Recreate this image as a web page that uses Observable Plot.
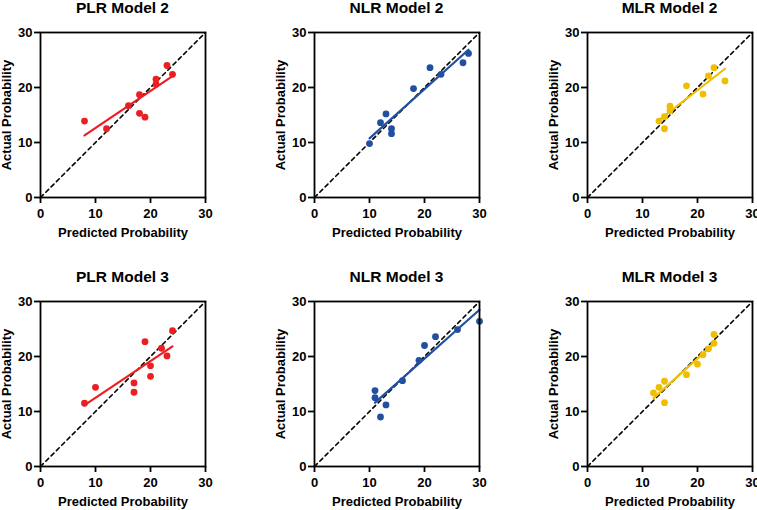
<!DOCTYPE html>
<html>
<head>
<meta charset="utf-8">
<script src="https://cdn.jsdelivr.net/npm/d3@7"></script>
<script src="https://cdn.jsdelivr.net/npm/@observablehq/plot@0.6"></script>
<style>
  html, body { margin: 0; padding: 0; background: #fff; }
  #chart { position: relative; width: 757px; height: 510px; overflow: hidden; background: #fff; }
  .panel-title { position: absolute; font-family: "Liberation Sans", Arial, sans-serif; font-weight: bold; font-size: 15.5px; line-height: 15px; text-align: center; color: #000; white-space: nowrap; }
  .panel { position: absolute; }
  .panel svg { overflow: visible; }
</style>
</head>
<body>
<div id="chart"></div>
<script>
// ---- Data ----
const axisTicks = [0, 10, 20, 30];
const xLabel = "Predicted Probability";
const yLabel = "Actual Probability";

const titles = ["PLR Model 2", "NLR Model 2", "MLR Model 2", "PLR Model 3", "NLR Model 3", "MLR Model 3"];
const colors = ["#EB1E23", "#2150A0", "#F0BE00", "#EB1E23", "#2150A0", "#F0BE00"];

const plr2X = [8, 12, 16, 18, 18, 19, 21, 21, 23, 24];
const plr2Y = [13.9, 12.5, 16.7, 18.7, 15.3, 14.6, 21.5, 20.6, 24.0, 22.4];

const nlr2X = [10, 12, 13, 14, 14, 18, 21, 23, 27, 28];
const nlr2Y = [9.8, 13.6, 15.2, 12.5, 11.6, 19.8, 23.6, 22.4, 24.5, 26.2];

const mlr2X = [13, 14, 14, 15, 15, 18, 21, 22, 23, 25];
const mlr2Y = [13.9, 14.7, 12.5, 16.6, 15.8, 20.3, 18.8, 22.1, 23.6, 21.2];

const plr3X = [8, 10, 17, 17, 19, 20, 20, 22, 23, 24];
const plr3Y = [11.5, 14.4, 15.2, 13.5, 22.7, 18.3, 16.4, 21.5, 20.1, 24.7];

const nlr3X = [11, 11, 12, 13, 16, 19, 20, 22, 26, 30];
const nlr3Y = [13.8, 12.5, 9.0, 11.2, 15.6, 19.3, 22.0, 23.6, 24.9, 26.4];

const mlr3X = [12, 13, 14, 14, 18, 20, 21, 22, 23, 23];
const mlr3Y = [13.4, 14.4, 15.5, 11.6, 16.7, 18.6, 20.3, 21.4, 22.4, 24.0];

const identityLine = [0, 30];

const seriesX = [plr2X, nlr2X, mlr2X, plr3X, nlr3X, mlr3X];
const seriesY = [plr2Y, nlr2Y, mlr2Y, plr3Y, nlr3Y, mlr3Y];

// ---- Layout ----
const colLeft = [0, 274, 547];
const rowTop = [0, 269];
const mLeft = 40, mTop = 12, plotW = 165, plotH = 165, mBottom = 45;

const chart = document.getElementById("chart");

titles.forEach((title, i) => {
  const col = i % 3, row = Math.floor(i / 3);
  const data = seriesX[i].map((x, k) => ({x, y: seriesY[i][k]}));
  const diag = identityLine.map(v => ({x: v, y: v}));
  const color = colors[i];
  const svgW = col === 2 ? 757 - colLeft[col] : mLeft + plotW + 8;

  const plot = Plot.plot({
    width: svgW,
    height: mTop + plotH + mBottom,
    marginLeft: mLeft,
    marginRight: svgW - mLeft - plotW,
    marginTop: mTop,
    marginBottom: mBottom,
    style: {fontFamily: "'Liberation Sans', Arial, sans-serif", fontSize: "13px", fontWeight: "bold", color: "#000", background: "transparent"},
    x: {domain: [0, 30]},
    y: {domain: [0, 30]},
    marks: [
      Plot.line(diag, {x: "x", y: "y", stroke: "#000", strokeWidth: 1.6, strokeDasharray: "4,3.5"}),
      Plot.linearRegressionY(data, {x: "x", y: "y", stroke: color, strokeWidth: 2.2, ci: 0}),
      Plot.dot(data, {x: "x", y: "y", r: 3.4, fill: color, stroke: "none"}),
      Plot.frame({stroke: "#000", strokeWidth: 1.8}),
      Plot.axisX({ticks: axisTicks, tickSize: 6, tickPadding: 5, strokeWidth: 1.8, label: xLabel, labelAnchor: "center", labelArrow: "none", labelOffset: 39, fontSize: 13, fontWeight: "bold"}),
      Plot.axisY({ticks: axisTicks, tickSize: 6, tickPadding: 2, strokeWidth: 1.8, label: yLabel, labelAnchor: "center", labelArrow: "none", labelOffset: 39, fontSize: 13, fontWeight: "bold"})
    ]
  });

  const holder = document.createElement("div");
  holder.className = "panel";
  holder.style.left = colLeft[col] + "px";
  holder.style.top = (rowTop[row] + 20) + "px";
  holder.appendChild(plot);
  chart.appendChild(holder);

  const t = document.createElement("div");
  t.className = "panel-title";
  t.style.left = (colLeft[col] + mLeft) + "px";
  t.style.width = plotW + "px";
  t.style.top = rowTop[row] + "px";
  t.textContent = title;
  chart.appendChild(t);
});
</script>
</body>
</html>
